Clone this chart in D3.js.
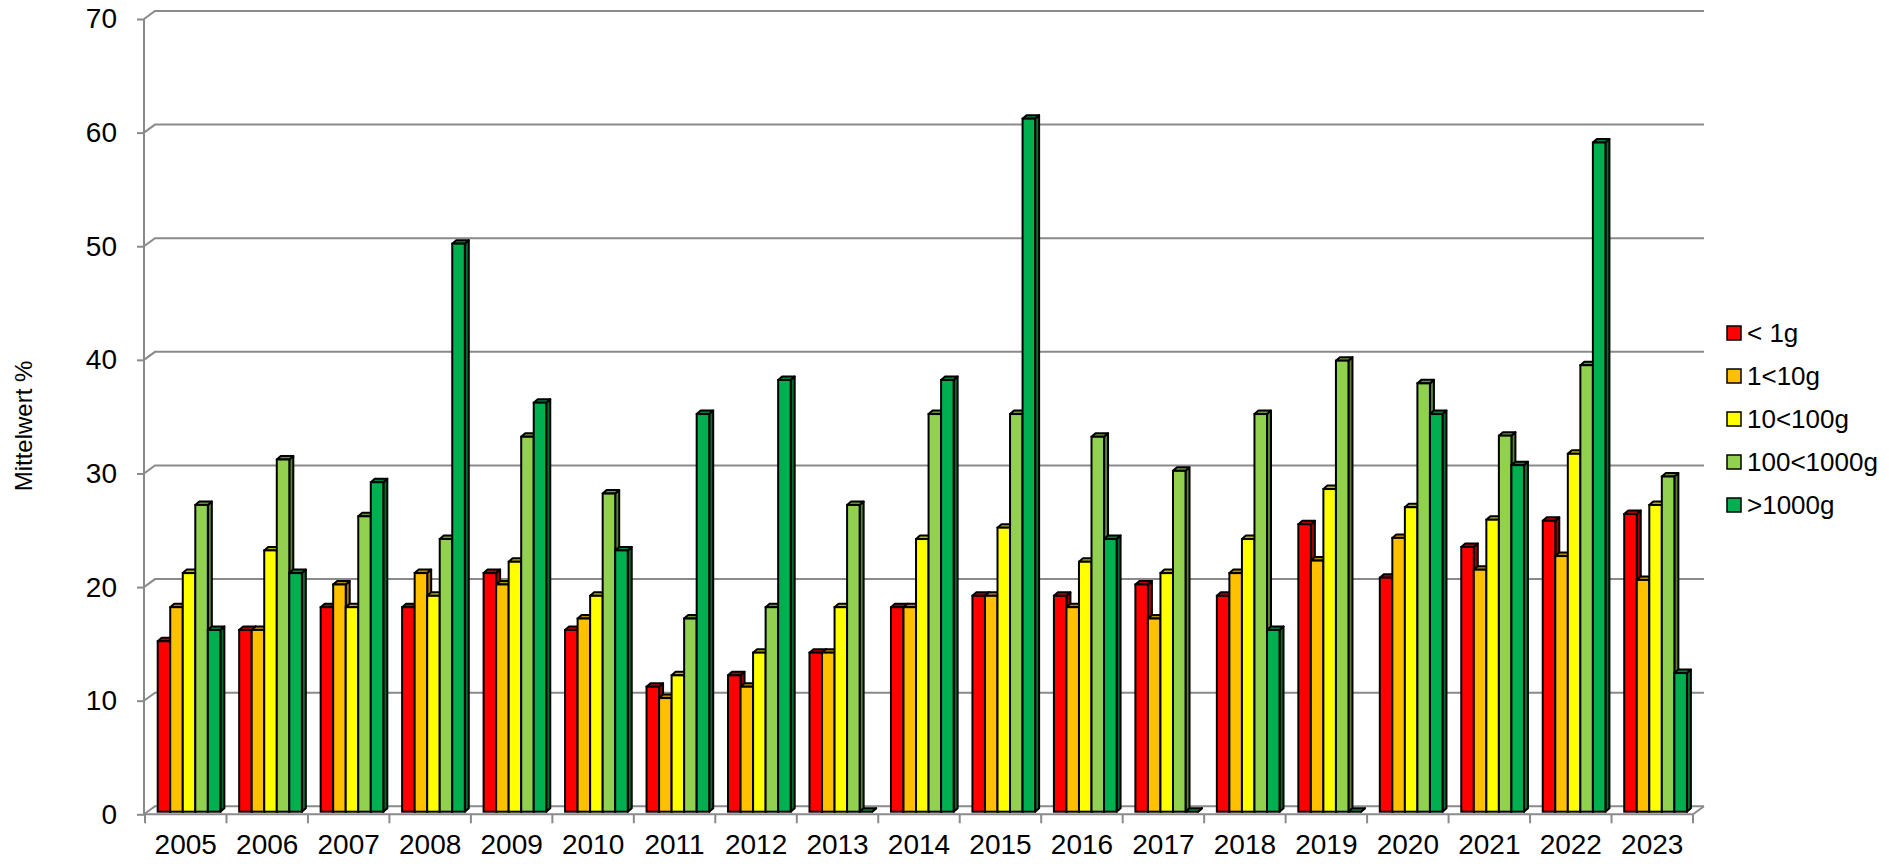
<!DOCTYPE html>
<html>
<head>
<meta charset="utf-8">
<script src="https://cdn.jsdelivr.net/npm/d3@7"></script>
<style>
  body { margin: 0; background: #fff; }
  text { font-family: 'Liberation Sans', Arial, sans-serif; fill: #000; }
</style>
</head>
<body>
<div id="chart"></div>
<script>
const years = ['2005', '2006', '2007', '2008', '2009', '2010', '2011', '2012', '2013', '2014',
  '2015', '2016', '2017', '2018', '2019', '2020', '2021', '2022', '2023'];
const seriesNames = ['< 1g', '1<10g', '10<100g', '100<1000g', '>1000g'];
const seriesColors = ['#FF0000', '#FFC000', '#FFFF00', '#92D050', '#00B050'];

const under1g = [15, 16, 18, 18, 21, 16, 11, 12, 14, 18, 19, 19, 20, 19, 25.3, 20.6, 23.3, 25.6, 26.2];
const g1to10 = [18, 16, 20, 21, 20, 17, 10, 11, 14, 18, 19, 18, 17, 21, 22.1, 24.1, 21.3, 22.5, 20.4];
const g10to100 = [21, 23, 18, 19, 22, 19, 12, 14, 18, 24, 25, 22, 21, 24, 28.4, 26.8, 25.7, 31.5, 27];
const g100to1000 = [27, 31, 26, 24, 33, 28, 17, 18, 27, 35, 35, 33, 30, 35, 39.7, 37.7, 33.1, 39.3, 29.5];
const over1000g = [16, 21, 29, 50, 36, 23, 35, 38, 0, 38, 61, 24, 0, 16, 0, 35, 30.5, 58.9, 12.2];
const seriesValues = [under1g, g1to10, g10to100, g100to1000, over1000g];

const yTicks = [0, 10, 20, 30, 40, 50, 60, 70];

const width = 1889;
const height = 864;

const wall = { dx: 11, dy: -8 }; // depth of back wall (3d floor)
const plane = { dx: 3.3, dy: -2.6 }; // bars stand a bit behind the front edge
const depth = { dx: 4, dy: -3.5 }; // bar thickness

const xScale = d3.scaleBand()
  .domain(years)
  .range([145, 1693]);

const xInner = d3.scaleBand()
  .domain(seriesNames)
  .range([0, xScale.bandwidth()])
  .paddingOuter(0.75);

const yScale = d3.scaleLinear()
  .domain([0, 70])
  .range([814.3, 19]);

const svg = d3.select('#chart').append('svg')
  .attr('width', width)
  .attr('height', height);

const grid = svg.append('g').attr('class', 'grid');

// back wall gridlines + left wall diagonals
yTicks.forEach((t) => {
  const fy = yScale(t);
  grid.append('path')
    .attr('d', `M144,${fy}L${144 + wall.dx},${fy + wall.dy}L${1693 + wall.dx},${fy + wall.dy}`)
    .attr('fill', 'none')
    .attr('stroke', '#8a8a8a')
    .attr('stroke-width', 2);
});

// floor front edge and right diagonal
grid.append('path')
  .attr('d', `M144,${yScale(0)}L1693,${yScale(0)}L${1693 + wall.dx},${yScale(0) + wall.dy}`)
  .attr('fill', 'none')
  .attr('stroke', '#8a8a8a')
  .attr('stroke-width', 2);

// y axis
const yAxis = d3.axisLeft(yScale)
  .tickValues(yTicks)
  .tickSize(7)
  .tickPadding(20);

svg.append('g')
  .attr('class', 'y axis')
  .attr('transform', 'translate(144,0)')
  .call(yAxis)
  .call(g => g.selectAll('path, line').attr('stroke', '#8a8a8a').attr('stroke-width', 2))
  .call(g => g.select('.domain').attr('d', `M0,${yScale(70)}V${yScale(0)}`))
  .call(g => g.selectAll('text').attr('font-size', 28).attr('font-family', null).attr('fill', '#000'));

// x axis ticks on band edges
const xAxis = d3.axisBottom(xScale)
  .tickSize(0)
  .tickPadding(20);

const xg = svg.append('g')
  .attr('class', 'x axis')
  .attr('transform', `translate(0,${yScale(0)})`)
  .call(xAxis);
xg.select('.domain').remove();
xg.selectAll('text')
  .attr('font-size', 28)
  .attr('font-family', null)
  .attr('fill', '#000');

xg.selectAll('.band-tick')
  .data(years.concat(['end']))
  .enter().append('line')
  .attr('class', 'band-tick')
  .attr('x1', (d, i) => (i < years.length ? xScale(d) : xScale.range()[1]))
  .attr('x2', (d, i) => (i < years.length ? xScale(d) : xScale.range()[1]))
  .attr('y1', 0)
  .attr('y2', 9)
  .attr('stroke', '#8a8a8a')
  .attr('stroke-width', 2);

// bars
const bars = [];
years.forEach((year, i) => {
  seriesNames.forEach((name, s) => {
    bars.push({ year, name, s, value: seriesValues[s][i] });
  });
});

const barG = svg.append('g').attr('class', 'bars');

const bar = barG.selectAll('.bar')
  .data(bars)
  .enter().append('g')
  .attr('class', 'bar');

function geom(d) {
  const x0 = xScale(d.year) + xInner(d.name) + plane.dx;
  const x1 = x0 + xInner.bandwidth();
  const yb = yScale(0) + plane.dy;
  const yt = yScale(d.value) + plane.dy;
  return { x0, x1, yb, yt };
}

bar.append('path') // side face
  .attr('d', (d) => {
    const g = geom(d);
    return `M${g.x1},${g.yt}L${g.x1 + depth.dx},${g.yt + depth.dy}L${g.x1 + depth.dx},${g.yb + depth.dy}L${g.x1},${g.yb}Z`;
  })
  .attr('fill', d => d3.color(seriesColors[d.s]).darker(1.3))
  .attr('stroke', '#000')
  .attr('stroke-width', 2)
  .attr('stroke-linejoin', 'round');

bar.append('path') // top face
  .attr('d', (d) => {
    const g = geom(d);
    return `M${g.x0},${g.yt}L${g.x0 + depth.dx},${g.yt + depth.dy}L${g.x1 + depth.dx},${g.yt + depth.dy}L${g.x1},${g.yt}Z`;
  })
  .attr('fill', d => d3.color(seriesColors[d.s]).darker(0.9))
  .attr('stroke', '#000')
  .attr('stroke-width', 2)
  .attr('stroke-linejoin', 'round');

bar.append('rect') // front face
  .attr('x', d => geom(d).x0)
  .attr('y', d => geom(d).yt)
  .attr('width', xInner.bandwidth())
  .attr('height', d => geom(d).yb - geom(d).yt)
  .attr('fill', d => seriesColors[d.s])
  .attr('stroke', '#000')
  .attr('stroke-width', 2);

// legend
const legend = svg.append('g')
  .attr('class', 'legend')
  .attr('transform', 'translate(1727,333)');

const item = legend.selectAll('.item')
  .data(seriesNames)
  .enter().append('g')
  .attr('class', 'item')
  .attr('transform', (d, i) => `translate(0,${i * 43})`);

item.append('rect')
  .attr('x', 0)
  .attr('y', -7)
  .attr('width', 14)
  .attr('height', 14)
  .attr('fill', (d, i) => seriesColors[i])
  .attr('stroke', '#000')
  .attr('stroke-width', 1.5);

item.append('text')
  .attr('x', 20)
  .attr('y', 0)
  .attr('dy', '0.35em')
  .attr('font-size', 26)
  .text(d => d);

// y title
svg.append('text')
  .attr('transform', 'translate(24,426) rotate(-90)')
  .attr('text-anchor', 'middle')
  .attr('dy', '0.35em')
  .attr('font-size', 24)
  .text('Mittelwert %');
</script>
</body>
</html>
